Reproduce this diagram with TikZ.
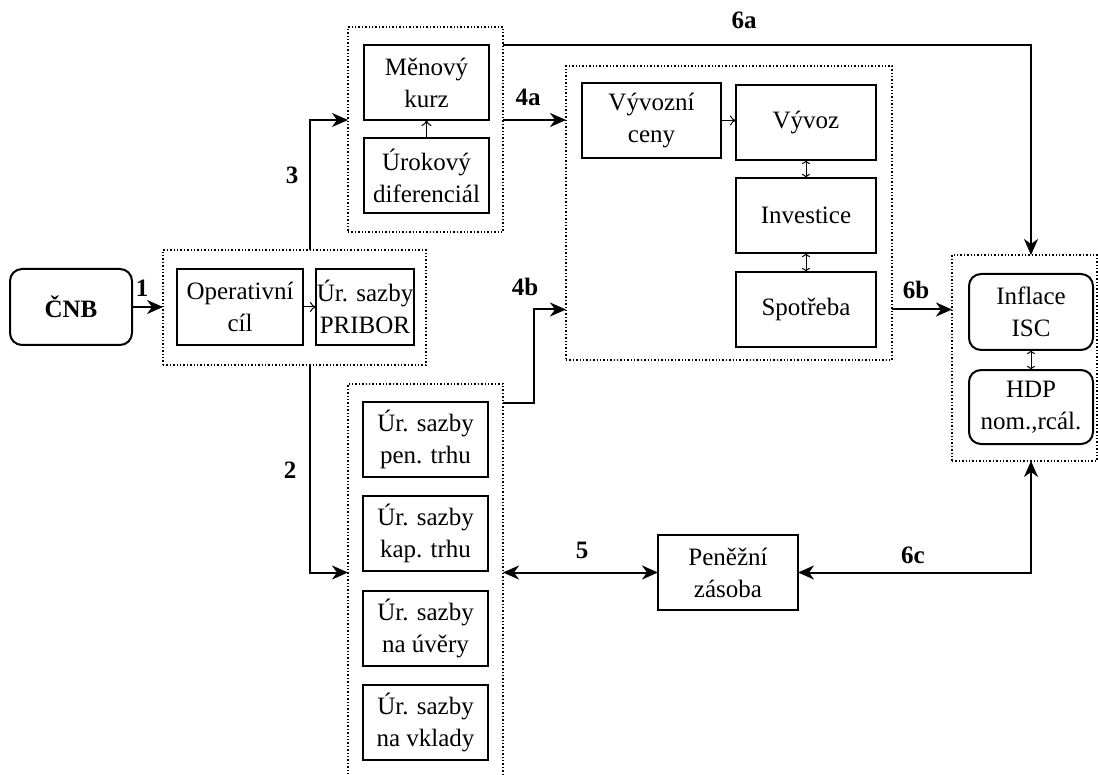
\documentclass[tikz,border=0pt]{standalone}
\usepackage{fontspec}
\setmainfont{Liberation Serif}
\usetikzlibrary{arrows.meta}

\begin{document}
\begin{tikzpicture}[x=0.5pt, y=-0.5pt,
    >={Stealth[length=8pt,width=7pt,inset=2.5pt]},
    every node/.style={font=\fontsize{12.5}{16}\selectfont, align=center, inner sep=0pt, outer sep=0pt},
    box/.style={draw, line width=1pt, minimum width=62.5pt, minimum height=37.5pt},
    rbox/.style={box, rounded corners=6pt},
    group/.style={draw, densely dotted, line width=0.7pt},
    conn/.style={line width=1pt, ->},
    link/.style={line width=0.5pt, -{To[length=3pt,width=5pt]}},
    twin/.style={line width=0.5pt, {To[length=2pt,width=4pt]}-{To[length=2pt,width=4pt]}},
    lab/.style={font=\fontsize{12.5}{14}\selectfont\bfseries}]
    \useasboundingbox (0,0) rectangle (1098,775);

    % Dotted groups
    \node[group, minimum width=131.5pt, minimum height=57.5pt] (g1) at (294.5,307.5) {};
    \node[group, minimum width=77.5pt, minimum height=102.5pt] (g2) at (425.5,129.5) {};
    \node[group, minimum width=163pt, minimum height=147pt] (g3) at (729,213) {};
    \node[group, minimum width=77.5pt, minimum height=203pt] (g4) at (425.5,587) {};
    \node[group, minimum width=72.5pt, minimum height=103pt] (g5) at (1024.5,358) {};

    % Central bank and operating target
    \node[rbox, minimum width=61pt, minimum height=38pt, font=\fontsize{12.5}{16}\selectfont\bfseries] (cnb) at (71,307) {ČNB};
    \node[box, minimum width=63pt, minimum height=38pt] (oper) at (240,307) {Operativní\\cíl};
    \node[box, minimum width=49pt, minimum height=38pt] (pribor) at (365,307) {Úr. sazby\\PRIBOR};

    % Exchange rate channel
    \node[box] (menovy) at (426.5,82.5) {Měnový\\kurz};
    \node[box] (urokovy) at (426.5,175.5) {Úrokový\\diferenciál};

    % Demand side
    \node[box, minimum width=69.5pt] (vyvceny) at (651.5,120.5) {Vývozní\\ceny};
    \node[box, minimum width=70pt] (vyvoz) at (806,122.5) {Vývoz};
    \node[box, minimum width=70pt] (investice) at (806,215.5) {Investice};
    \node[box, minimum width=70pt] (spotreba) at (806,309.5) {Spotřeba};

    % Market interest rates
    \node[box] (penTrh) at (425.5,439.5) {Úr. sazby\\pen. trhu};
    \node[box] (kapTrh) at (425.5,533.5) {Úr. sazby\\kap. trhu};
    \node[box] (uvery) at (425.5,628.5) {Úr. sazby\\na úvěry};
    \node[box] (vklady) at (425.5,722.5) {Úr. sazby\\na vklady};

    % Money supply
    \node[box, minimum width=70pt] (penezni) at (728,572.5) {Peněžní\\zásoba};

    % Prices and output
    \node[rbox, minimum width=62pt, minimum height=38pt] (inflace) at (1031,312) {Inflace\\ISC};
    \node[rbox, minimum width=62pt, minimum height=37pt] (hdp) at (1031,407) {HDP\\nom.,rcál.};

    % Links inside the groups
    \draw[link] (oper.east) -- (pribor.west);
    \draw[link] (urokovy.north) -- (menovy.south);
    \draw[link] (vyvceny.east) -- (vyvceny.east -| vyvoz.west);
    \draw[twin] (vyvoz.south) -- (investice.north);
    \draw[twin] (investice.south) -- (spotreba.north);
    \draw[twin] (inflace.south) -- (hdp.north);

    % Transmission channels
    \coordinate (c3) at (310,120);
    \coordinate (c2) at (310,572.5);
    \coordinate (c4b) at (534,403);
    \coordinate (c6a) at (1031,45);

    \draw[conn] (cnb.east) -- (cnb.east -| g1.west);
    \draw[conn] (g1.north -| c3) |- (g2.west |- c3);
    \draw[conn] (g1.south -| c2) |- (g4.west |- c2);
    \draw[conn] (g2.east |- menovy.south) -- (g3.west |- menovy.south);
    \draw[conn] (g4.east |- c4b) -- (c4b) |- (g3.west |- spotreba);
    \draw[conn] (g2.east |- c6a) -- (c6a) -- (g5.north -| c6a);
    \draw[conn] (g3.east |- spotreba) -- (g5.west |- spotreba);
    \draw[conn, <->] (g4.east |- penezni.west) -- (penezni.west);
    \draw[conn, <->] (penezni.east) -| (g5.south -| c6a);

    % Channel numbers
    \node[lab] (n1) at (142,288) {1};
    \node[lab] (n2) at (290,470) {2};
    \node[lab] (n3) at (292,175) {3};
    \node[lab] (n4a) at (528,97) {4a};
    \node[lab] (n4b) at (525,287) {4b};
    \node[lab] (n5) at (582,550) {5};
    \node[lab] (n6a) at (744,20) {6a};
    \node[lab] (n6b) at (916,290) {6b};
    \node[lab] (n6c) at (913,555) {6c};
\end{tikzpicture}
\end{document}
